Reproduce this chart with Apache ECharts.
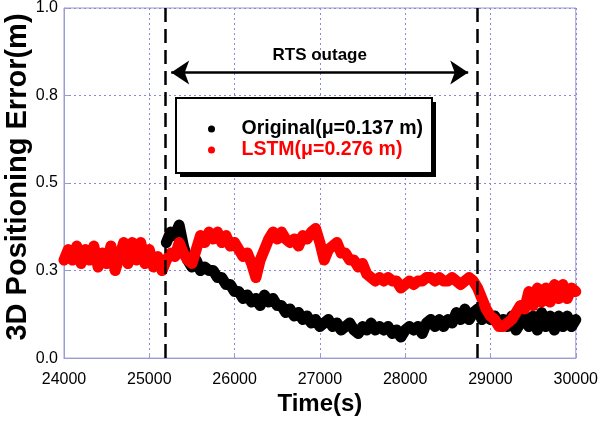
<!DOCTYPE html>
<html>
<head>
<meta charset="utf-8" />
<title>3D Positioning Error</title>
<script src="https://cdn.jsdelivr.net/npm/echarts@6/dist/echarts.min.js"></script>
<style>
html, body { margin: 0; padding: 0; background: #fff; }
#main { width: 601px; height: 421px; }
</style>
</head>
<body>
<div id="main"></div>
<script type="text/javascript">
// sampling grid of the traces (s)
var tStart = 24000;
var tStep = 50;

// Original (black), only plotted from the outage start
var originalErr = [
  null, null, null, null, null, null, null, null, null, null,
  null, null, null, null, null, null, null, null, null, null,
  null, null, null, null,
  0.33, 0.36, 0.35, 0.38, 0.32, 0.28, 0.26, 0.28, 0.25, 0.26,
  0.25, 0.25, 0.23, 0.23, 0.21, 0.21, 0.19, 0.19, 0.17, 0.18,
  0.16, 0.17, 0.15, 0.18, 0.16, 0.17, 0.15, 0.15, 0.13, 0.14,
  0.12, 0.13, 0.11, 0.12, 0.10, 0.11, 0.09, 0.10, 0.11, 0.09,
  0.10, 0.08, 0.09, 0.10, 0.08, 0.07, 0.09, 0.08, 0.10, 0.08,
  0.09, 0.08, 0.09, 0.07, 0.08, 0.06, 0.08, 0.09, 0.08, 0.09,
  0.07, 0.10, 0.11, 0.09, 0.11, 0.09, 0.11, 0.10, 0.13, 0.11,
  0.14, 0.11, 0.13, 0.14, 0.11, 0.12, 0.11, 0.12, 0.10, 0.11,
  0.09, 0.12, 0.08, 0.10, 0.12, 0.09, 0.12, 0.08, 0.13, 0.09,
  0.12, 0.08, 0.12, 0.09, 0.12, 0.09, 0.11
];

// LSTM (red)
var lstmErr = [
  0.28, 0.31, 0.28, 0.32, 0.27, 0.31, 0.28, 0.32, 0.26, 0.30,
  0.27, 0.32, 0.25, 0.29, 0.33, 0.27, 0.33, 0.28, 0.33, 0.27,
  0.31, 0.26, 0.29, 0.25,
  0.28, 0.30, 0.29, 0.33, 0.30, 0.28, 0.27, 0.31, 0.35, 0.33,
  0.36, 0.34, 0.36, 0.33, 0.35, 0.32, 0.33, 0.31, 0.29, 0.30,
  0.27, 0.23, 0.28, 0.31, 0.34, 0.36, 0.34, 0.36, 0.34, 0.33,
  0.34, 0.32, 0.35, 0.34, 0.36, 0.37, 0.33, 0.28, 0.31, 0.32,
  0.33, 0.30, 0.30, 0.28, 0.28, 0.26, 0.27, 0.24, 0.23, 0.22,
  0.23, 0.22, 0.23, 0.22, 0.22, 0.20, 0.21, 0.22, 0.21, 0.22,
  0.22, 0.23, 0.23, 0.22, 0.23, 0.22, 0.22, 0.23, 0.22, 0.21,
  0.22, 0.23, 0.22, 0.20, 0.17, 0.14, 0.12, 0.11, 0.09, 0.09,
  0.10, 0.11, 0.13, 0.15, 0.14, 0.19, 0.15, 0.20, 0.16, 0.20,
  0.16, 0.21, 0.17, 0.21, 0.17, 0.20, 0.19
];

var yLabels = ['0.0', '0.3', '0.5', '0.8', '1.0'];
var outageLines = [25190, 28845];
var arrowSpan = [25257, 28739];
var arrowLevel = 0.816;
var names = ['Original(\u03bc=0.137 m)', 'LSTM(\u03bc=0.276 m)'];

function pairs(vals) {
  var out = [];
  for (var i = 0; i < vals.length; i++) {
    out.push([tStart + i * tStep, vals[i]]);
  }
  return out;
}

var axisColor = '#9c9cd4';
var font = '"Liberation Sans", Arial, sans-serif';

var myChart = echarts.init(document.getElementById('main'));
var option = {
  backgroundColor: '#fff',
  animation: false,
  grid: {
    left: 64, right: 23, top: 8, bottom: 61,
    show: true, borderColor: axisColor, borderWidth: 1
  },
  legend: {
    orient: 'vertical',
    left: 176, top: 98,
    padding: [21, 12, 15, 32],
    itemGap: 1,
    itemWidth: 50,
    itemHeight: 7,
    icon: 'circle',
    selectedMode: false,
    z: 10,
    textStyle: { fontFamily: font, fontSize: 19.5, fontWeight: 'bold' },
    data: [
      { name: names[0], textStyle: { color: '#000' } },
      { name: names[1], textStyle: { color: '#ff0000' } }
    ]
  },
  xAxis: {
    type: 'value',
    min: 24000, max: 30000, interval: 1000,
    name: 'Time(s)',
    nameLocation: 'middle',
    nameGap: 9,
    nameTextStyle: { fontFamily: font, fontSize: 24, fontWeight: 'bold', color: '#000' },
    axisLine: { lineStyle: { color: axisColor } },
    axisTick: { inside: true, length: 5, lineStyle: { color: axisColor } },
    axisLabel: {
      fontFamily: font, fontSize: 16, color: '#000', margin: 13,
      formatter: function (v) { return String(v); }
    },
    splitLine: { lineStyle: { color: '#8a8ad0', type: [2, 3] } }
  },
  yAxis: {
    type: 'value',
    min: 0, max: 1, interval: 0.25,
    axisLine: { show: true, lineStyle: { color: axisColor } },
    axisTick: { show: true, inside: true, length: 5, lineStyle: { color: axisColor } },
    axisLabel: {
      fontFamily: font, fontSize: 16, color: '#000', margin: 6,
      formatter: function (v) { return yLabels[Math.round(v / 0.25)]; }
    },
    splitLine: { lineStyle: { color: '#8a8ad0', type: [2, 3] } }
  },
  graphic: [
    {
      type: 'text',
      x: 18, y: 177,
      rotation: Math.PI / 2,
      style: {
        text: '3D Positioning Error(m)',
        fill: '#000',
        font: 'bold 29px ' + font,
        textAlign: 'center',
        textVerticalAlign: 'middle'
      }
    },
    // legend frame with its drop shadow
    {
      type: 'rect', z: 8,
      shape: { x: 180, y: 102, width: 256, height: 75 },
      style: { fill: '#000' }
    },
    {
      type: 'rect', z: 9,
      shape: { x: 176, y: 98, width: 256, height: 75 },
      style: { fill: '#fff', stroke: '#000', lineWidth: 2 }
    }
  ],
  series: [
    {
      name: names[0],
      type: 'line',
      data: pairs(originalErr),
      showSymbol: false,
      color: '#000',
      lineStyle: { color: '#000', width: 11, join: 'round', cap: 'round' },
      markLine: {
        silent: true,
        symbol: ['arrow', 'arrow'],
        symbolSize: 18,
        lineStyle: { color: '#000', width: 2.5, type: 'solid' },
        label: {
          show: true, position: 'insideMiddleTop', distance: 9,
          formatter: 'RTS outage',
          fontFamily: font, fontSize: 17, fontWeight: 'bold', color: '#000'
        },
        data: [[{ coord: [arrowSpan[0], arrowLevel] }, { coord: [arrowSpan[1], arrowLevel] }]]
      }
    },
    {
      name: names[1],
      type: 'line',
      data: pairs(lstmErr),
      showSymbol: false,
      color: '#ff0000',
      lineStyle: { color: '#ff0000', width: 11, join: 'round', cap: 'round' },
      markLine: {
        silent: true,
        symbol: ['none', 'none'],
        label: { show: false },
        lineStyle: { color: '#000', width: 2.5, type: [14, 7] },
        data: [{ xAxis: outageLines[0] }, { xAxis: outageLines[1] }]
      }
    }
  ]
};
myChart.setOption(option);
</script>
</body>
</html>
